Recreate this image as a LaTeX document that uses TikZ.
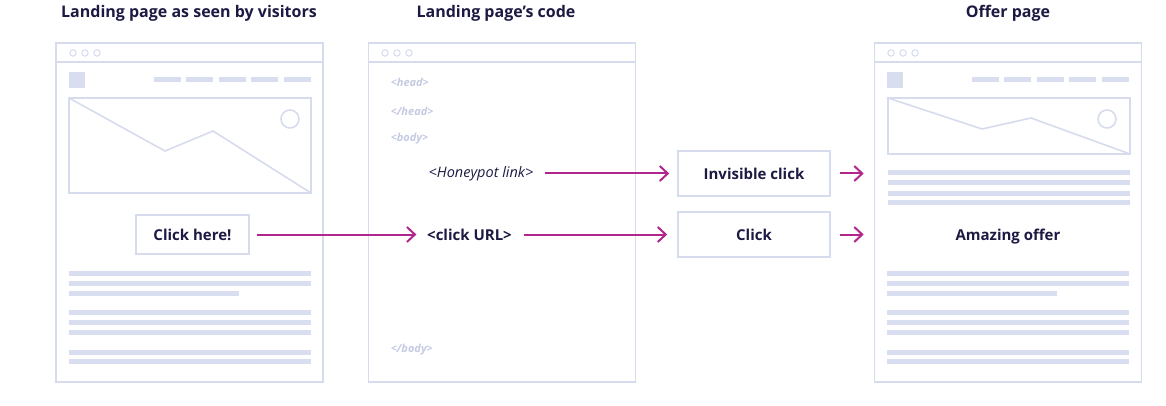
\documentclass[tikz,border=0pt]{standalone}
\usepackage{fontspec}
\setmainfont{Open Sans}
\usetikzlibrary{arrows.meta}

\definecolor{frame}{RGB}{214,220,238}
\definecolor{bar}{RGB}{216,222,240}
\definecolor{ink}{RGB}{28,26,66}
\definecolor{pink}{RGB}{176,38,140}
\definecolor{codegray}{RGB}{196,202,226}

\begin{document}
\begin{tikzpicture}
  [x=1pt,y=-1pt,line width=1.6pt,
   every node/.style={text=ink,font=\bfseries\fontsize{15}{18}\selectfont},
   window/.style={draw=frame,minimum width=267pt,minimum height=339pt},
   btn/.style={draw=frame,minimum width=152pt,minimum height=45pt},
   heading/.style={font=\bfseries\fontsize{16}{19}\selectfont},
   code/.style={anchor=west,inner sep=0pt,text=codegray,
     font=\bfseries\itshape\fontsize{11}{13}\selectfont},
   link/.style={draw=pink,line width=2pt,
     arrows={-{Straight Barb[length=8pt,width=15pt]}}}]
  \useasboundingbox (0,0) rectangle (1166,406);

  % headings
  \node[heading] (visitors) at (189,13) {Landing page as seen by visitors};
  \node[heading] (codehead) at (496,13) {Landing page’s code};
  \node[heading] (offerhead) at (1008,13) {Offer page};

  % browser windows
  \node[window] (landing) at (189.5,212.5) {};
  \node[window] (source) at (502,212.5) {};
  \node[window] (offer) at (1008,212.5) {};
  \foreach \px in {56,368,874} {
    \draw[frame] (\px,62) -- +(267,0);
    \foreach \d in {17,29,41}
      \draw[frame,line width=1pt] (\px+\d,53) circle (3.2);
  }

  % page header and text lines
  \foreach \px in {56,874} {
    \fill[bar] (\px+13,72) rectangle +(16,16);
    \foreach \i in {0,...,4}
      \fill[bar] (\px+98+\i*32.4,77.5) rectangle +(27,5);
    \foreach \y in {273,283,312,322,332,352,361}
      \fill[bar] (\px+13,\y-2.5) rectangle (\px+255,\y+2.5);
    \fill[bar] (\px+13,290.5) rectangle (\px+183,295.5);
  }
  \foreach \y in {173,183,193,202}
    \fill[bar] (888,\y-2.5) rectangle (1130,\y+2.5);

  % pictures
  \draw[frame] (69,98) rectangle (311,193);
  \draw[frame] (69,98) -- (165,151) -- (213,131) -- (311,193);
  \draw[frame] (290,119) circle (9);
  \draw[frame] (888,98) rectangle (1130,154);
  \draw[frame] (888,98) -- (982,129) -- (1031,118) -- (1130,154);
  \draw[frame] (1107,119) circle (9);

  % code
  \node[code] (head) at (390,82) {<head>};
  \node[code] (headend) at (390,111) {</head>};
  \node[code] (body) at (390,139) {<body>};
  \node[code] (bodyend) at (390,350) {</body>};

  \node[draw=frame,minimum width=113pt,minimum height=39pt] (clickhere) at (192.5,234.5) {Click here!};
  \node[inner sep=0pt] (clickurl) at (469.5,234.5) {<click URL>};
  \node[inner sep=0pt,font=\itshape\fontsize{14.5}{17}\selectfont] (honeypot) at (481,173.5) {<Honeypot link>};
  \node[btn] (invisible) at (754,173.5) {Invisible click};
  \node[btn] (click) at (754,234.5) {Click};
  \node (amazing) at (1008,237) {Amazing offer};

  \draw[link,shorten <=7pt,shorten >=10pt] (clickhere) -- (clickurl);
  \draw[link,shorten <=11pt,shorten >=10pt] (clickurl) -- (click);
  \draw[link,shorten <=11pt,shorten >=8pt] (honeypot) -- (invisible);
  \draw[link,shorten <=9pt,shorten >=10pt] (invisible.east) -- (invisible -| offer.west);
  \draw[link,shorten <=9pt,shorten >=10pt] (click.east) -- (click -| offer.west);
\end{tikzpicture}
\end{document}
